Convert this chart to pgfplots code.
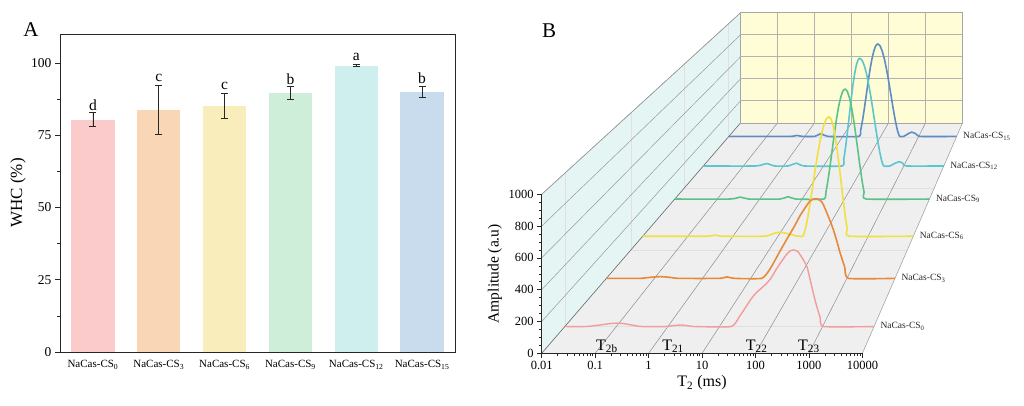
\documentclass[border=0pt]{standalone}
\usepackage{fontspec}
\setmainfont{Liberation Serif}
\usepackage{pgfplots}
\pgfplotsset{compat=1.18}
\usetikzlibrary{calc}
\pgfdeclarelayer{bg}
\pgfsetlayers{bg,main}
\newcommand\fs[1]{\fontsize{#1}{#1}\selectfont}
\definecolor{a0}{HTML}{FBCACB}
\definecolor{a1}{HTML}{F9D6B6}
\definecolor{a2}{HTML}{F8EDBB}
\definecolor{a3}{HTML}{CFEEDA}
\definecolor{a4}{HTML}{CEEFEE}
\definecolor{a5}{HTML}{C9DCEE}
\definecolor{c0}{HTML}{F29C9C}
\definecolor{c1}{HTML}{E8893A}
\definecolor{c2}{HTML}{F0E040}
\definecolor{c3}{HTML}{5CC386}
\definecolor{c4}{HTML}{5CC6CF}
\definecolor{c5}{HTML}{5D8DC4}
\definecolor{wallc}{HTML}{E4F5F4}
\definecolor{floorc}{HTML}{EFEFEF}
\definecolor{backc}{HTML}{FEFDD6}
\pgfplotsset{
  bar/.style={ybar, bar shift=0pt, bar width=43.3pt, draw=none,
    error bars/.cd, y dir=both, y explicit,
    error bar style={black!85, line width=0.6pt},
    error mark options={rotate=90, mark size=3.5pt, black!85, line width=0.6pt},
    /pgfplots/.cd},
}
\tikzset{lab/.style={anchor=west, xshift=3pt, font=\fs{9.5}, text=black!85}}
\begin{document}
\begin{tikzpicture}[x=1pt,y=1pt]
\path[use as bounding box] (0,0) rectangle (1024,405);
% ---------------- Panel A ----------------
\begin{axis}[name=A, at={(60pt,53pt)}, anchor=south west, scale only axis,
  width=395pt, height=318pt, xmin=-0.5, xmax=5.5, ymin=0, ymax=110,
  xtick={0,...,5},
  xticklabels={NaCas-CS\textsubscript{0},NaCas-CS\textsubscript{3},NaCas-CS\textsubscript{6},NaCas-CS\textsubscript{9},NaCas-CS\textsubscript{12},NaCas-CS\textsubscript{15}},
  x tick label style={font=\fs{11}},
  ytick={0,25,50,75,100}, yticklabels={0,25,50,75,100},
  y tick label style={font=\fs{13.5}},
  minor y tick num=1, tick align=outside, ytick pos=left,
  xtick style={draw=none},
  major tick length=5pt, minor tick length=3pt,
  tick style={black!85, line width=0.7pt},
  axis line style={black!85, line width=0.8pt},
  ylabel={WHC (\%)}, ylabel style={font=\fs{17}, at={(axis description cs:-0.106,0.5)}, anchor=center},
]
\addplot[fill=a0, bar] coordinates {(0,80.4) +- (0,2.5)};
\addplot[fill=a1, bar] coordinates {(1,83.8) +- (0,8.4)};
\addplot[fill=a2, bar] coordinates {(2,85.2) +- (0,4.3)};
\addplot[fill=a3, bar] coordinates {(3,89.6) +- (0,2.2)};
\addplot[fill=a4, bar] coordinates {(4,99.1) +- (0,0.4)};
\addplot[fill=a5, bar] coordinates {(5,90.1) +- (0,1.9)};
\node[font=\fs{15.5}, yshift=7.5pt] at (axis cs:0,82.9) {d};
\node[font=\fs{15.5}, yshift=7.5pt] at (axis cs:1,92.2) {c};
\node[font=\fs{15.5}, yshift=7.5pt] at (axis cs:2,89.5) {c};
\node[font=\fs{15.5}, yshift=7.5pt] at (axis cs:3,91.8) {b};
\node[font=\fs{15.5}, yshift=7.5pt] at (axis cs:4,99.5) {a};
\node[font=\fs{15.5}, yshift=7.5pt] at (axis cs:5,92.0) {b};
\end{axis}
\node[font=\fs{21}] at (31,375) {A};
\node[font=\fs{21}] at (549,374) {B};
% ---------------- Panel B ----------------
% back wall
\begin{axis}[name=BK, scale only axis, anchor=south west,
  at={(740.61pt,282.25pt)}, width=222.0pt, height=110.06pt,
  xmode=log, xmin=0.01, xmax=10000, ymin=0, ymax=1000,
  axis background/.style={fill=backc},
  xtick={0.01,0.1,1,10,100,1000,10000}, ytick={0,200,400,600,800,1000},
  xticklabels={}, yticklabels={}, tick style={draw=none},
  xminorticks=false, yminorticks=false,
  grid=major, major grid style={color=black!30, line width=0.5pt},
  axis line style={black!35, line width=0.5pt}]
\end{axis}
% CS15
\begin{axis}[xmode=log, xmin=0.01, xmax=10000, ymin=0, ymax=1000, hide axis, clip=false, scale only axis,
  anchor=south west, at={(728.83pt,268.60pt)}, width=227.84pt, height=112.96pt]
\addplot[c5, line width=1.6pt, smooth, tension=0.3] coordinates {(0.01,0) (0.4,0) (0.6,8) (0.9,0) (1.8,0) (2.7,24) (4,0) (26.3,0) (29.5,51) (33.1,141) (37.2,250) (41.7,369) (46.8,487) (52.5,596) (58.9,688) (66.1,758) (74.1,803) (83.2,818) (95.1,803) (108.6,758) (124.2,688) (141.9,596) (162.2,487) (185.4,369) (211.8,250) (242.1,141) (276.7,51) (316.2,0) (400,0) (520,22) (655,38) (850,22) (1100,0) (10000,0)};
\node[lab] at (axis cs:10000,0) {NaCas-CS\textsubscript{15}};
\end{axis}
% CS12
\begin{axis}[xmode=log, xmin=0.01, xmax=10000, ymin=0, ymax=1000, hide axis, clip=false, scale only axis,
  anchor=south west, at={(703.32pt,239.03pt)}, width=240.50pt, height=119.24pt]
\addplot[c4, line width=1.6pt, smooth, tension=0.3] coordinates {(0.01,0) (0.2,0) (0.38,20) (0.6,0) (1.3,0) (2.1,23) (3.3,0) (28.8,0) (31.9,56) (35.3,155) (39.1,276) (43.3,407) (47.9,537) (53.0,657) (58.6,759) (64.9,837) (71.8,886) (79.4,903) (91.2,886) (104.7,837) (120.2,759) (138.0,657) (158.5,537) (182.0,407) (208.9,276) (239.9,155) (275.4,56) (316.2,0) (450,0) (600,22) (780,36) (950,22) (1180,0) (10000,0)};
\node[lab] at (axis cs:10000,0) {NaCas-CS\textsubscript{12}};
\end{axis}
% CS9
\begin{axis}[xmode=log, xmin=0.01, xmax=10000, ymin=0, ymax=1000, hide axis, clip=false, scale only axis,
  anchor=south west, at={(674.80pt,205.97pt)}, width=254.66pt, height=126.26pt]
\addplot[c3, line width=1.6pt, smooth, tension=0.3] coordinates {(0.01,0) (0.2,0) (0.35,15) (0.55,0) (3,0) (4.7,18) (7,0) (32.4,0) (36.3,54) (40.7,150) (45.7,267) (51.3,393) (57.5,518) (64.6,634) (72.4,733) (81.3,807) (91.2,855) (102.3,871) (114.8,855) (128.8,807) (144.5,733) (162.2,634) (182.0,518) (204.2,393) (229.1,267) (257.0,150) (288.4,54) (323.6,0) (10000,0)};
\node[lab] at (axis cs:10000,0) {NaCas-CS\textsubscript{9}};
\end{axis}
% CS6
\begin{axis}[xmode=log, xmin=0.01, xmax=10000, ymin=0, ymax=1000, hide axis, clip=false, scale only axis,
  anchor=south west, at={(642.71pt,168.78pt)}, width=270.58pt, height=134.15pt]
\addplot[c2, line width=1.6pt, smooth, tension=0.3] coordinates {(0.01,0) (0.25,0) (0.4,8) (0.6,0) (5,0) (8,20) (11,30) (16,20) (24,4) (30,0) (35.5,0) (40.6,55) (46.3,153) (53.0,272) (60.5,401) (69.2,530) (79.1,648) (90.4,748) (103.3,825) (118.0,874) (134.9,890) (149.6,874) (166,825) (184.1,748) (204.2,648) (226.5,530) (251.2,401) (278.6,272) (309,153) (342.8,55) (380.2,0) (10000,0)};
\node[lab] at (axis cs:10000,0) {NaCas-CS\textsubscript{6}};
\end{axis}
% CS3
\begin{axis}[xmode=log, xmin=0.01, xmax=10000, ymin=0, ymax=1000, hide axis, clip=false, scale only axis,
  anchor=south west, at={(606.35pt,126.63pt)}, width=288.62pt, height=143.10pt]
\addplot[c1, line width=1.6pt, smooth, tension=0.3] coordinates {(0.01,0) (0.05,0) (0.08,7) (0.13,12) (0.2,8) (0.32,0) (2.2,0) (3.2,10) (4.6,0) (16.9,0) (25,63) (40,185) (56,272) (80,360) (105,435) (140,500) (170,540) (200,553) (229,557) (280,545) (323,517) (420,425) (521,342) (620,260) (720,180) (900,80) (1080,0) (10000,0)};
\node[lab] at (axis cs:10000,0) {NaCas-CS\textsubscript{3}};
\end{axis}
% CS0
\begin{axis}[xmode=log, xmin=0.01, xmax=10000, ymin=0, ymax=1000, hide axis, clip=false, scale only axis,
  anchor=south west, at={(564.79pt,78.46pt)}, width=309.24pt, height=153.32pt]
\addplot[c0, line width=1.4pt, smooth, tension=0.3] coordinates {(0.01,0) (0.025,0) (0.035,4) (0.05,11) (0.07,18) (0.1,22) (0.14,19) (0.19,11) (0.25,4) (0.32,0) (0.9,0) (1.2,5) (1.75,10) (2.5,5) (3.3,0) (17,0) (25,70) (33,130) (40,174) (50,215) (65,250) (83,283) (100,315) (125,370) (152,413) (200,470) (240,495) (274,500) (330,490) (400,450) (500,390) (600,280) (700,185) (800,115) (900,60) (1050,0) (10000,0)};
\node[lab] at (axis cs:10000,0) {NaCas-CS\textsubscript{0}};
\end{axis}
% front axis
\begin{axis}[name=F, at={(541.7pt,51.7pt)}, anchor=south west, scale only axis,
  width=320.7pt, height=159pt, xmode=log, xmin=0.01, xmax=10000, ymin=0, ymax=1000,
  axis x line*=bottom, axis y line*=left,
  axis line style={-, black!85, line width=0.7pt},
  tick align=outside,
  xtick={0.01,0.1,1,10,100,1000,10000},
  xticklabels={0.01,0.1,1,10,100,1000,10000},
  minor xtick={0.02,0.03,0.04,0.05,0.06,0.07,0.08,0.09,0.2,0.3,0.4,0.5,0.6,0.7,0.8,0.9,2,3,4,5,6,7,8,9,20,30,40,50,60,70,80,90,200,300,400,500,600,700,800,900,2000,3000,4000,5000,6000,7000,8000,9000},
  ytick={0,200,400,600,800,1000}, yticklabels={0,200,400,600,800,1000},
  minor y tick num=3,
  major tick length=4.5pt, minor tick length=2.5pt,
  tick style={black!85, line width=0.6pt},
  ticklabel style={font=\fs{12.5}},
  xlabel={T\textsubscript{2} (ms)},
  xlabel style={font=\fs{16}, at={(axis description cs:0.5,-0.187)}, anchor=center},
  ylabel={Amplitude (a.u)},
  ylabel style={font=\fs{15.5}, at={(axis description cs:-0.146,0.5)}, anchor=center},
  clip=false]
\node[font=\fs{16}, anchor=base] at (axis cs:0.166,20) {T\textsubscript{2b}};
\node[font=\fs{16}, anchor=base] at (axis cs:2.86,20) {T\textsubscript{21}};
\node[font=\fs{16}, anchor=base] at (axis cs:105,20) {T\textsubscript{22}};
\node[font=\fs{16}, anchor=base] at (axis cs:1000,20) {T\textsubscript{23}};
\end{axis}
% walls and floor (background layer)
\begin{pgfonlayer}{bg}
\fill[floorc] (F.south west) -- (F.south east) -- (BK.south east) -- (BK.south west) -- cycle;
\fill[wallc] (F.south west) -- (F.north west) -- (BK.north west) -- (BK.south west) -- cycle;
\foreach \f in {0.1161,0.4483,0.7167,0.9383} {
  \draw[black!12, line width=0.5pt] ($(F.south west)!\f!(BK.south west)$) -- ($(F.south east)!\f!(BK.south east)$);
  \draw[black!12, line width=0.5pt] ($(F.south west)!\f!(BK.south west)$) -- ($(F.north west)!\f!(BK.north west)$);
}
\foreach \i [evaluate=\i as \fr using \i/6] in {1,...,5}
  \draw[black!45, line width=0.5pt] ($(F.south west)!\fr!(F.south east)$) -- ($(BK.south west)!\fr!(BK.south east)$);
\foreach \j [evaluate=\j as \fr using \j/5] in {1,...,5}
  \draw[black!40, line width=0.5pt] ($(F.south west)!\fr!(F.north west)$) -- ($(BK.south west)!\fr!(BK.north west)$);
\draw[black!60, line width=0.6pt] (F.south west) -- (BK.south west);
\draw[black!40, line width=0.5pt] (F.south east) -- (BK.south east);
\draw[black!40, line width=0.5pt] (F.north west) -- (BK.north west);
\end{pgfonlayer}
\end{tikzpicture}
\end{document}
